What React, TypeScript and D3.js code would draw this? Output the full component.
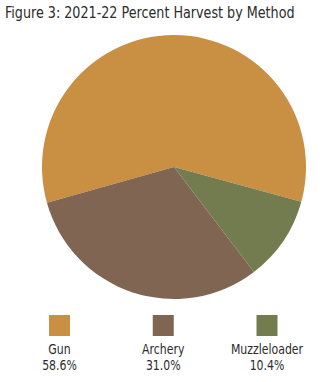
import React from "react";
import * as d3 from "d3";

const categories = ["Gun", "Archery", "Muzzleloader"];
const percents = [58.6, 31.0, 10.4];
const colors = ["#C98F42", "#806553", "#737C4F"];
const title = "Figure 3: 2021-22 Percent Harvest by Method";

const W = 325;
const H = 382;
const cx = 174;
const cy = 167;
const radius = 132;
const rot = (105.3 * Math.PI) / 180;
const font = "'DejaVu Sans Condensed', 'DejaVu Sans', sans-serif";
const ink = "#2b2b2b";

export default function App() {
  const pie = d3
    .pie<number>()
    .sort(null)
    .startAngle(rot + 2 * Math.PI)
    .endAngle(rot);
  const arcs = pie(percents);
  const arcGen = d3.arc<d3.PieArcDatum<number>>().innerRadius(0).outerRadius(radius);

  const legendX = d3.scalePoint<string>().domain(categories).range([59.5, 267]);

  return (
    <svg
      width={W}
      height={H}
      style={{ position: "absolute", left: 0, top: 0, background: "#fff" }}
    >
      <g transform="translate(5,17.5) scale(0.945,1)">
        <text x={0} y={0} fontFamily={font} fontSize={15} fill={ink}>
          {title}
        </text>
      </g>
      <g transform={`translate(${cx},${cy})`}>
        {arcs.map((a, i) => (
          <path key={categories[i]} d={arcGen(a) ?? ""} fill={colors[i]} />
        ))}
      </g>
      {categories.map((c, i) => {
        const x = legendX(c) ?? 0;
        return (
          <g key={c}>
            <rect x={x - 10.5} y={315} width={21} height={21} fill={colors[i]} />
            <g transform={`translate(${x},0) scale(0.9,1)`}>
              <text x={0} y={354} textAnchor="middle" fontFamily={font} fontSize={13.5} fill={ink}>
                {c}
              </text>
              <text x={0} y={370.5} textAnchor="middle" fontFamily={font} fontSize={13.5} fill={ink}>
                {percents[i].toFixed(1)}%
              </text>
            </g>
          </g>
        );
      })}
    </svg>
  );
}
